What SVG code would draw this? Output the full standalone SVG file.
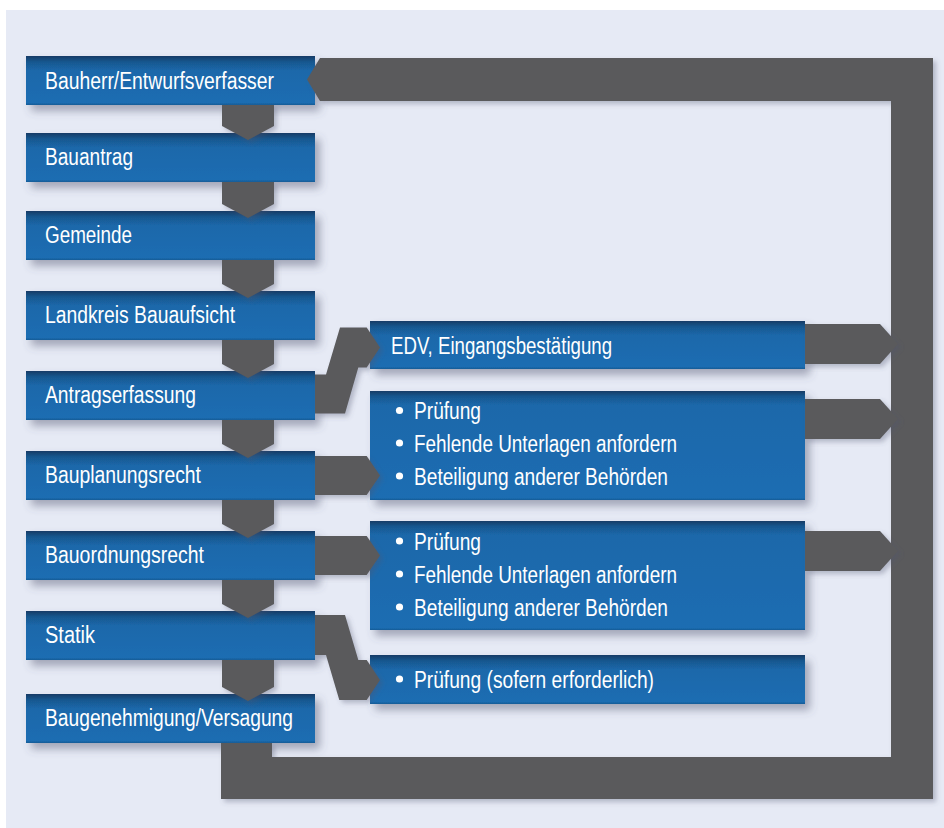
<svg xmlns="http://www.w3.org/2000/svg" width="944" height="828" viewBox="0 0 944 828">
<defs>
<linearGradient id="blue" x1="0" y1="0" x2="0" y2="1">
<stop offset="0" stop-color="#143c66"/>
<stop offset="0.12" stop-color="#19578f"/>
<stop offset="0.3" stop-color="#1a68aa"/>
<stop offset="0.95" stop-color="#1b6db2"/>
<stop offset="1" stop-color="#175b96"/>
</linearGradient>
<linearGradient id="blueTall" x1="0" y1="0" x2="0" y2="1">
<stop offset="0" stop-color="#143c66"/>
<stop offset="0.05" stop-color="#19578f"/>
<stop offset="0.13" stop-color="#1a68aa"/>
<stop offset="0.98" stop-color="#1b6db2"/>
<stop offset="1" stop-color="#175b96"/>
</linearGradient>
<filter id="sh" x="-10%" y="-20%" width="125%" height="160%">
<feDropShadow dx="5" dy="6" stdDeviation="4" flood-color="#4e5570" flood-opacity="0.45"/>
</filter>
<filter id="shg" x="-10%" y="-10%" width="125%" height="130%">
<feDropShadow dx="3" dy="3" stdDeviation="2.5" flood-color="#4e5570" flood-opacity="0.35"/>
</filter>
<style>
.box{fill:url(#blue);filter:url(#sh)}
.tall{fill:url(#blueTall);filter:url(#sh)}
.t{font-family:"Liberation Sans",Arial,sans-serif;font-size:23px;fill:#ffffff}
.g{fill:#5a5a5c;filter:url(#shg)}
.dot{fill:#ffffff}
</style>
</defs>
<rect x="0" y="0" width="944" height="828" fill="#ffffff"/>
<rect x="6" y="10" width="938" height="818" fill="#e6eaf5"/>

<g id="n1"><rect class="box" x="26" y="56" width="289" height="49"/><text class="t" x="45" y="88.5" textLength="229" lengthAdjust="spacingAndGlyphs">Bauherr/Entwurfsverfasser</text></g>
<g id="n2"><rect class="box" x="26" y="133" width="289" height="49"/><text class="t" x="45" y="165" textLength="88" lengthAdjust="spacingAndGlyphs">Bauantrag</text></g>
<g id="n3"><rect class="box" x="26" y="211" width="289" height="49"/><text class="t" x="45" y="243" textLength="87" lengthAdjust="spacingAndGlyphs">Gemeinde</text></g>
<g id="n4"><rect class="box" x="26" y="291" width="289" height="49"/><text class="t" x="45" y="323" textLength="190" lengthAdjust="spacingAndGlyphs">Landkreis Bauaufsicht</text></g>
<g id="n5"><rect class="box" x="26" y="371" width="289" height="49"/><text class="t" x="45" y="403" textLength="151" lengthAdjust="spacingAndGlyphs">Antragserfassung</text></g>
<g id="n6"><rect class="box" x="26" y="451" width="289" height="49"/><text class="t" x="45" y="483" textLength="156" lengthAdjust="spacingAndGlyphs">Bauplanungsrecht</text></g>
<g id="n7"><rect class="box" x="26" y="531" width="289" height="49"/><text class="t" x="45" y="563" textLength="159" lengthAdjust="spacingAndGlyphs">Bauordnungsrecht</text></g>
<g id="n8"><rect class="box" x="26" y="611" width="289" height="49"/><text class="t" x="45" y="643" textLength="50" lengthAdjust="spacingAndGlyphs">Statik</text></g>
<g id="n9"><rect class="box" x="26" y="694" width="289" height="49"/><text class="t" x="45" y="726" textLength="248" lengthAdjust="spacingAndGlyphs">Baugenehmigung/Versagung</text></g>

<g id="r1"><rect class="box" x="370" y="321" width="435" height="48"/><text class="t" x="391" y="353.5" textLength="221" lengthAdjust="spacingAndGlyphs">EDV, Eingangsbestätigung</text></g>
<g id="r2"><rect class="tall" x="370" y="391" width="435" height="109"/>
<circle class="dot" cx="399.5" cy="410.5" r="3.6"/><text class="t" x="414" y="419" textLength="67" lengthAdjust="spacingAndGlyphs">Prüfung</text>
<circle class="dot" cx="399.5" cy="443" r="3.6"/><text class="t" x="414" y="451.5" textLength="263" lengthAdjust="spacingAndGlyphs">Fehlende Unterlagen anfordern</text>
<circle class="dot" cx="399.5" cy="476" r="3.6"/><text class="t" x="414" y="484.5" textLength="254" lengthAdjust="spacingAndGlyphs">Beteiligung anderer Behörden</text></g>
<g id="r3"><rect class="tall" x="370" y="521" width="435" height="109"/>
<circle class="dot" cx="399.5" cy="541" r="3.6"/><text class="t" x="414" y="549.5" textLength="67" lengthAdjust="spacingAndGlyphs">Prüfung</text>
<circle class="dot" cx="399.5" cy="574" r="3.6"/><text class="t" x="414" y="582.5" textLength="263" lengthAdjust="spacingAndGlyphs">Fehlende Unterlagen anfordern</text>
<circle class="dot" cx="399.5" cy="607" r="3.6"/><text class="t" x="414" y="615.5" textLength="254" lengthAdjust="spacingAndGlyphs">Beteiligung anderer Behörden</text></g>
<g id="r4"><rect class="box" x="370" y="655" width="435" height="49"/>
<circle class="dot" cx="399.5" cy="679" r="3.6"/><text class="t" x="414" y="687.5" textLength="240" lengthAdjust="spacingAndGlyphs">Prüfung (sofern erforderlich)</text></g>

<g id="connectors">
<polygon class="g" points="222,105 274,105 274,126 248,140 222,126"/>
<polygon class="g" points="222,182 274,182 274,204 248,218 222,204"/>
<polygon class="g" points="222,260 274,260 274,284 248,298 222,284"/>
<polygon class="g" points="222,340 274,340 274,364 248,378 222,364"/>
<polygon class="g" points="222,420 274,420 274,444 248,458 222,444"/>
<polygon class="g" points="222,500 274,500 274,524 248,538 222,524"/>
<polygon class="g" points="222,580 274,580 274,604 248,618 222,604"/>
<polygon class="g" points="222,660 274,660 274,687 248,701 222,687"/>
<polygon class="g" points="315,374.5 326,374.5 340,327.5 366.7,327.5 380,347.5 366.7,367.5 358.3,367.5 345,413.5 315,413.5"/>
<polygon class="g" points="315,456 366.7,456 380,475.5 366.7,495 315,495"/>
<polygon class="g" points="315,536 366.7,536 380,555.5 366.7,575 315,575"/>
<polygon class="g" points="315,615 345,615 358.3,660 366.7,660 380,680 366.7,700 339.3,700 326,655 315,655"/>
<polygon class="g" points="307,79.5 320,58 933,58 933,799 221,799 221,743 272,743 272,757 891,757 891,101 320,101"/>
<polygon class="g" points="805,324 880,324 898,344 880,364 805,364"/>
<polygon class="g" points="805,399 880,399 898,419 880,439 805,439"/>
<polygon class="g" points="805,531 880,531 898,551 880,571 805,571"/>
</g>
</svg>
